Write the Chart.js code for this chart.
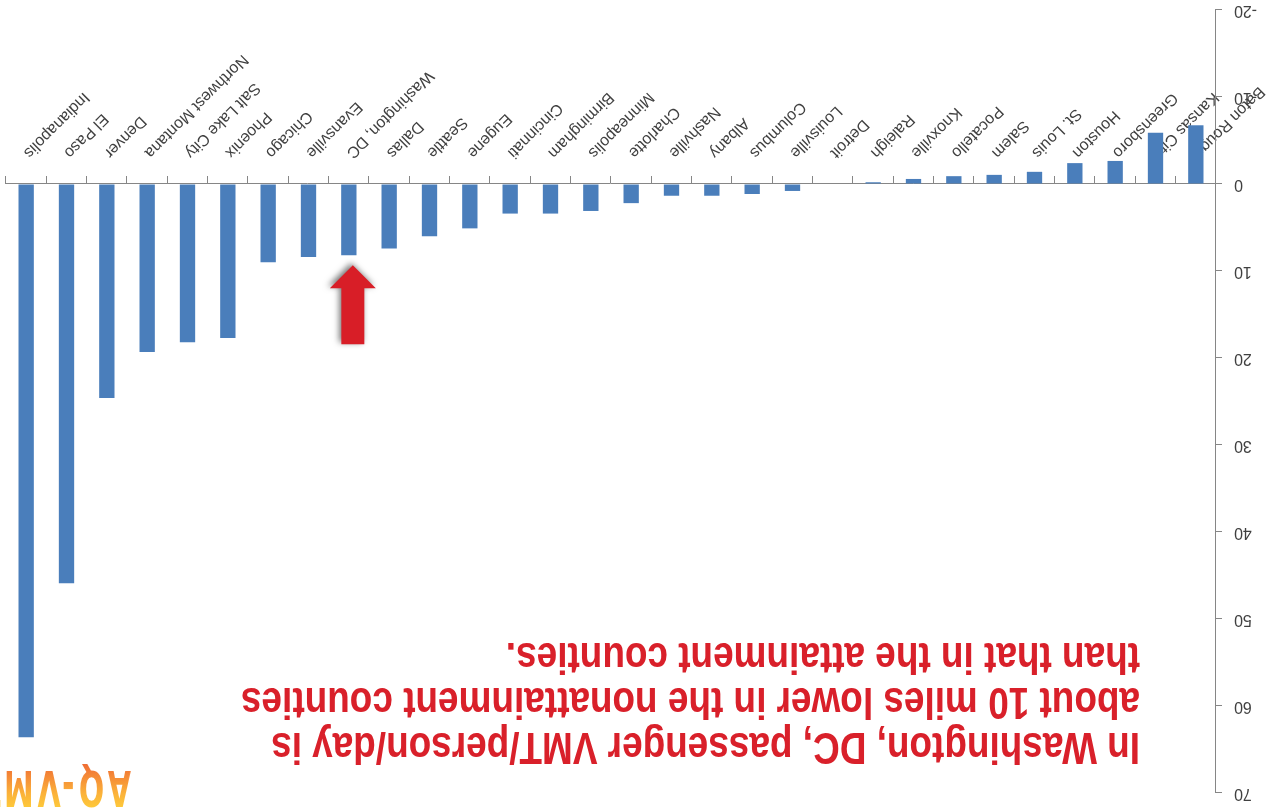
<!DOCTYPE html>
<html><head><meta charset="utf-8">
<script src="https://cdn.jsdelivr.net/npm/chart.js@4/dist/chart.umd.min.js"></script>
<style>
html,body{margin:0;padding:0;background:#fff;}
#wrap{position:absolute;left:0;top:0;width:1278px;height:810px;overflow:hidden;background:#fff;transform:rotate(180deg);transform-origin:50% 50%;}
#c{position:absolute;left:0;top:0;}
#note{position:absolute;left:138px;top:39px;font-family:"Liberation Sans",Arial,sans-serif;font-weight:bold;font-size:44px;line-height:45px;color:#d9202a;white-space:nowrap;transform-origin:0 0;}
#logo{position:absolute;left:1147px;top:-3px;font-family:"DejaVu Sans",sans-serif;font-weight:bold;font-size:50px;line-height:50px;letter-spacing:6px;white-space:nowrap;transform-origin:0 0;transform:scaleX(0.6);
 background:linear-gradient(to bottom,#ffd23a 0%,#fbb13a 40%,#ef6a34 100%);-webkit-background-clip:text;background-clip:text;color:transparent;}
</style></head>
<body>
<div id="wrap">
<canvas id="c" width="1278" height="810"></canvas>
<div id="note"><div>In Washington, DC, passenger VMT/person/day is</div><div><span id="l2">about 10 miles lower in the nonattainment counties</span></div><div>than that in the attainment counties.</div></div>
<div id="logo">AQ-VMT</div>
</div>
<script>
const categories = ["Baton Rouge","Kansas City","Greensboro","Houston","St. Louis","Salem","Pocatello","Knoxville","Raleigh","Detroit","Louisville","Columbus","Albany","Nashville","Charlotte","Minneapolis","Birmingham","Cincinnati","Eugene","Seattle","Dallas","Washington, DC","Evansville","Chicago","Phoenix","Salt Lake City","Northwest Montana","Denver","El Paso","Indianapolis"];
const values = [-6.75,-5.9,-2.65,-2.4,-1.4,-1.05,-0.9,-0.58,-0.2,0,0.8,1.15,1.35,1.35,2.2,3.1,3.4,3.4,5.1,6.0,7.4,8.2,8.4,9.0,17.7,18.2,19.3,24.6,45.9,63.6];
const yMin = -20, yMax = 70, yStep = 10;
const highlighted = "Washington, DC";

// fit annotation width (narrow bold look)
const note = document.getElementById('note');
const w2 = document.getElementById('l2').getBoundingClientRect().width;
note.style.transform = 'scaleX(' + (899 / w2) + ')';

const arrowPlugin = {
  id: 'arrow',
  afterDatasetsDraw(chart) {
    const meta = chart.getDatasetMeta(0);
    const bar = meta.data[categories.indexOf(highlighted)];
    const ctx = chart.ctx;
    const cx = bar.x - 4, tip = bar.y - 10;
    const headLen = 23, total = 79, headHalf = 23, shaftHalf = 11.5;
    ctx.save();
    ctx.shadowColor = 'rgba(0,0,0,0.55)';
    ctx.shadowBlur = 6; ctx.shadowOffsetX = 2; ctx.shadowOffsetY = 2;
    ctx.fillStyle = '#d81e27';
    ctx.beginPath();
    ctx.moveTo(cx, tip);
    ctx.lineTo(cx + headHalf, tip - headLen);
    ctx.lineTo(cx + shaftHalf, tip - headLen);
    ctx.lineTo(cx + shaftHalf, tip - total);
    ctx.lineTo(cx - shaftHalf, tip - total);
    ctx.lineTo(cx - shaftHalf, tip - headLen);
    ctx.lineTo(cx - headHalf, tip - headLen);
    ctx.closePath();
    ctx.fill();
    ctx.restore();
  }
};

function noPad(s) { s.paddingTop = 0; s.paddingBottom = 0; s.paddingLeft = 0; s.paddingRight = 0; }

new Chart(document.getElementById('c'), {
  type: 'bar',
  data: { labels: categories, datasets: [{ data: values, backgroundColor: '#4a7ebb', borderWidth: 0, barPercentage: 0.38, categoryPercentage: 1 }] },
  options: {
    responsive: false, animation: false, devicePixelRatio: 1,
    layout: { padding: { top: 17, right: 6, bottom: 10, left: 0 } },
    plugins: { legend: { display: false }, tooltip: { enabled: false } },
    scales: {
      x: {
        position: { y: 0 }, offset: true,
        grid: { display: true, drawOnChartArea: false, drawTicks: true, tickLength: 7, color: '#868686', offset: true },
        border: { display: true, color: '#868686', width: 1 },
        ticks: { autoSkip: false, minRotation: 45, maxRotation: 45, padding: 15, color: '#404040', font: { family: 'Liberation Sans', size: 16 } },
        afterFit: noPad
      },
      y: {
        min: yMin, max: yMax,
        ticks: { stepSize: yStep, padding: 12, color: '#404040', font: { family: 'Liberation Sans', size: 16 } },
        grid: { display: true, drawOnChartArea: false, tickLength: 6, color: '#868686' },
        border: { display: true, color: '#868686', width: 1 },
        afterFit(s) { s.width = 62; noPad(s); }
      }
    }
  },
  plugins: [arrowPlugin]
});
</script>
</body></html>
